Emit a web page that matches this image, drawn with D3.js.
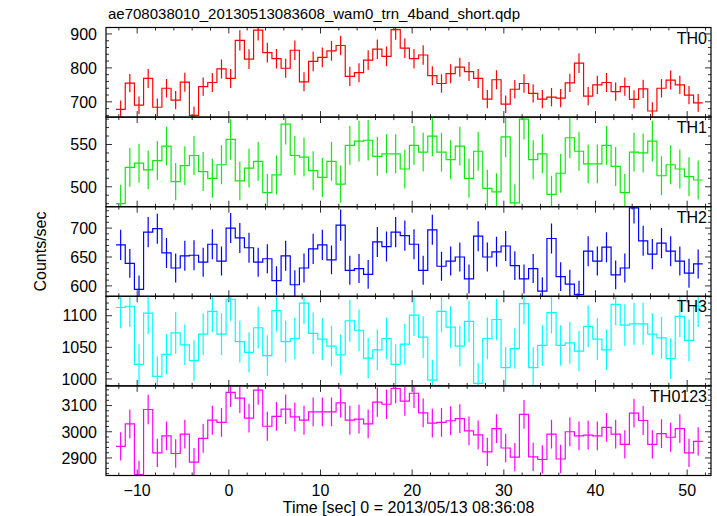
<!DOCTYPE html>
<html><head><meta charset="utf-8">
<script src="https://cdn.jsdelivr.net/npm/d3@7"></script>
<style>
body{margin:0;background:#fff}
text{font-family:"Liberation Sans",Arial,Helvetica,sans-serif;fill:#000}
</style>
</head><body>
<svg id="chart" width="717" height="516"></svg>
<script>
const titleText = "ae708038010_20130513083608_wam0_trn_4band_short.qdp";
const xLabelText = "Time [sec] 0 = 2013/05/13 08:36:08";
const yLabelText = "Counts/sec";
const panelNames = ["TH0", "TH1", "TH2", "TH3", "TH0123"];
const binWidth = 1;
const times = [-11.8,-10.8,-9.8,-8.8,-7.8,-6.8,-5.8,-4.8,-3.8,-2.8,-1.8,-0.8,0.2,1.2,2.2,3.2,4.2,5.2,6.2,7.2,8.2,9.2,10.2,11.2,12.2,13.2,14.2,15.2,16.2,17.2,18.2,19.2,20.2,21.2,22.2,23.2,24.2,25.2,26.2,27.2,28.2,29.2,30.2,31.2,32.2,33.2,34.2,35.2,36.2,37.2,38.2,39.2,40.2,41.2,42.2,43.2,44.2,45.2,46.2,47.2,48.2,49.2,50.2,51.2];

const th0 = [678,755,690,769,684,740,705,758,660,745,757,797,769,881,826,911,845,827,799,852,759,819,831,850,866,775,786,823,855,834,913,858,827,838,777,754,783,802,789,769,708,765,693,737,754,725,708,714,711,756,814,717,750,757,730,745,707,738,673,740,764,750,720,697];
const th0Err = [26,27,26,28,26,27,27,28,26,27,28,28,28,30,29,30,29,29,28,29,28,29,29,29,29,28,28,29,29,29,30,29,29,29,28,27,28,28,28,28,27,28,26,27,27,27,27,27,27,27,29,27,27,28,27,27,27,27,26,27,28,27,27,26];

const th1 = [480,523,528,520,531,548,506,525,537,518,510,526,556,507,522,530,493,514,574,537,535,519,511,530,503,549,554,555,536,539,539,521,549,541,560,541,532,548,510,542,498,494,559,481,580,532,539,491,516,558,542,527,527,549,524,493,541,540,554,513,526,521,512,508];
const th1Err = [22,23,23,23,23,23,22,23,23,23,23,23,24,23,23,23,22,23,24,23,23,23,23,23,22,23,24,24,23,23,23,23,23,23,24,23,23,23,23,23,22,22,24,22,24,23,23,22,23,24,23,23,23,23,23,22,23,23,24,23,23,23,23,23];

const th2 = [671,639,594,693,699,657,631,652,653,641,672,643,700,683,666,641,647,609,652,602,631,664,671,645,705,627,630,620,676,668,693,687,672,627,697,634,643,650,612,686,650,659,669,635,612,630,591,682,616,603,585,660,643,667,619,631,735,678,655,674,660,643,622,638];
const th2Err = [26,25,24,26,26,26,25,26,26,25,26,25,26,26,26,25,25,25,26,25,25,26,26,25,27,25,25,25,26,26,26,26,26,25,26,25,25,25,25,26,25,26,26,25,25,25,24,26,25,25,24,26,25,26,25,25,27,26,26,26,26,25,25,25];

const th3 = [1113,1115,1023,1104,1004,1039,1073,1054,1029,1071,1107,1071,1126,1059,1042,1081,1037,1108,1059,1064,1120,1072,1063,1052,1038,1092,1077,1033,1046,1064,1023,1055,1101,1066,998,1107,1082,1052,1091,993,1064,1094,1018,1048,1119,1018,1053,1105,1053,1057,1044,1083,1063,1046,1118,1085,1087,1087,1071,1065,1032,1099,1061,1115];
const th3Err = [33,33,32,33,32,32,33,32,32,33,33,33,34,33,32,33,32,33,33,33,33,33,33,32,32,33,33,32,32,33,32,32,33,33,32,33,33,32,33,32,33,33,32,32,33,32,32,33,32,33,32,33,33,32,33,33,33,33,33,33,32,33,33,33];

const th0123 = [2944,3030,2836,3085,2919,2984,2917,2991,2884,2975,3044,3036,3150,3128,3052,3159,3021,3059,3086,3057,3044,3076,3076,3076,3110,3044,3048,3030,3113,3105,3165,3117,3147,3072,3033,3036,3042,3050,3003,2988,2923,3012,2938,2903,3066,2904,2894,2991,2896,3000,2984,2987,2984,3017,2991,2952,3071,3043,2952,2993,2979,3012,2919,2963];
const th0123Err = [54,55,53,56,54,55,54,55,54,55,55,55,56,56,55,56,55,55,56,55,55,55,55,55,56,55,55,55,56,56,56,56,56,55,55,55,55,55,55,55,54,55,54,54,55,54,54,55,54,55,55,55,55,55,55,54,55,55,54,55,55,55,54,54];

const xDomain = [-13.4, 52.6];
const xMajorTicks = [-10, 0, 10, 20, 30, 40, 50];
const xMinorStep = 2;
const yDomains = [[655, 919], [476.4, 582.4], [582, 737], [989, 1130.7], [2833, 3175]];
const yMajorTicks = [[700, 800, 900], [500, 550], [600, 650, 700], [1000, 1050, 1100], [2900, 3000, 3100]];
const yMinorSteps = [20, 10, 10, 10, 20];
const colors = ["#ff0000", "#11e811", "#0000ff", "#00ffff", "#ff00ff"];

const seriesValues = [th0, th1, th2, th3, th0123];
const seriesErrors = [th0Err, th1Err, th2Err, th3Err, th0123Err];

// layout
const L = 106, R = 711, TOP = 27.5, PH = 89.6;
const svg = d3.select("#chart");
const x = d3.scaleLinear().domain(xDomain).range([L, R]);

const xMinor = d3.range(Math.ceil(xDomain[0] / xMinorStep) * xMinorStep, xDomain[1], xMinorStep)
  .filter(v => !xMajorTicks.includes(v));

const defs = svg.append("defs");

panelNames.forEach((name, p) => {
  const y0 = TOP + p * PH, y1 = y0 + PH;
  const y = d3.scaleLinear().domain(yDomains[p]).range([y1, y0]);
  const g = svg.append("g");
  const clipId = "clip" + p;
  defs.append("clipPath").attr("id", clipId)
    .append("rect").attr("x", L).attr("y", y0).attr("width", R - L).attr("height", PH);

  // ticks
  const tk = g.append("g").attr("stroke", "#333").attr("stroke-width", 1);
  const yMin = d3.range(Math.ceil(yDomains[p][0] / yMinorSteps[p]) * yMinorSteps[p], yDomains[p][1], yMinorSteps[p])
    .filter(v => !yMajorTicks[p].includes(v));
  xMajorTicks.forEach(v => {
    tk.append("line").attr("x1", x(v)).attr("x2", x(v)).attr("y1", y1).attr("y2", y1 - 6);
    tk.append("line").attr("x1", x(v)).attr("x2", x(v)).attr("y1", y0).attr("y2", y0 + 6);
  });
  xMinor.forEach(v => {
    tk.append("line").attr("x1", x(v)).attr("x2", x(v)).attr("y1", y1).attr("y2", y1 - 3);
    tk.append("line").attr("x1", x(v)).attr("x2", x(v)).attr("y1", y0).attr("y2", y0 + 3);
  });
  yMajorTicks[p].forEach(v => {
    tk.append("line").attr("x1", L).attr("x2", L + 6).attr("y1", y(v)).attr("y2", y(v));
    tk.append("line").attr("x1", R).attr("x2", R - 6).attr("y1", y(v)).attr("y2", y(v));
  });
  yMin.forEach(v => {
    tk.append("line").attr("x1", L).attr("x2", L + 3).attr("y1", y(v)).attr("y2", y(v));
    tk.append("line").attr("x1", R).attr("x2", R - 3).attr("y1", y(v)).attr("y2", y(v));
  });

  // y tick labels
  g.append("g").selectAll("text").data(yMajorTicks[p]).join("text")
    .attr("x", L - 9).attr("y", v => y(v)).attr("dy", "0.36em")
    .attr("text-anchor", "end").attr("font-size", 16).text(v => v);

  // data
  const vals = seriesValues[p], errs = seriesErrors[p];
  const pts = times.map((t, i) => [t - binWidth / 2, vals[i]]);
  pts.push([times[times.length - 1] + binWidth / 2, vals[vals.length - 1]]);
  const line = d3.line().x(d => x(d[0])).y(d => y(d[1])).curve(d3.curveStepAfter);
  const dg = g.append("g").attr("clip-path", `url(#${clipId})`);
  dg.append("path").attr("d", line(pts)).attr("fill", "none")
    .attr("stroke", colors[p]).attr("stroke-width", 1.2);
  dg.append("g").selectAll("line").data(times).join("line")
    .attr("x1", t => x(t)).attr("x2", t => x(t))
    .attr("y1", (t, i) => y(vals[i] - errs[i])).attr("y2", (t, i) => y(vals[i] + errs[i]))
    .attr("stroke", colors[p]).attr("stroke-width", 1.2);

  // frame
  g.append("rect").attr("x", L).attr("y", y0).attr("width", R - L).attr("height", PH)
    .attr("fill", "none").attr("stroke", "#000").attr("stroke-width", 1.2);

  // panel label
  g.append("text").attr("x", R - 4).attr("y", y0 + 16).attr("text-anchor", "end")
    .attr("font-size", 16).text(name);
});

const bottom = TOP + panelNames.length * PH;
svg.append("g").selectAll("text").data(xMajorTicks).join("text")
  .attr("x", v => x(v)).attr("y", bottom + 20).attr("text-anchor", "middle")
  .attr("font-size", 16).text(v => v < 0 ? "\u2212" + Math.abs(v) : v);

svg.append("text").attr("x", L + 2).attr("y", 19).attr("font-size", 15).text(titleText);
svg.append("text").attr("x", (L + R) / 2).attr("y", 513).attr("text-anchor", "middle")
  .attr("font-size", 16).text(xLabelText);
svg.append("text").attr("transform", `translate(46,${(TOP + bottom) / 2}) rotate(-90)`)
  .attr("text-anchor", "middle").attr("font-size", 16).text(yLabelText);
</script>
</body></html>
